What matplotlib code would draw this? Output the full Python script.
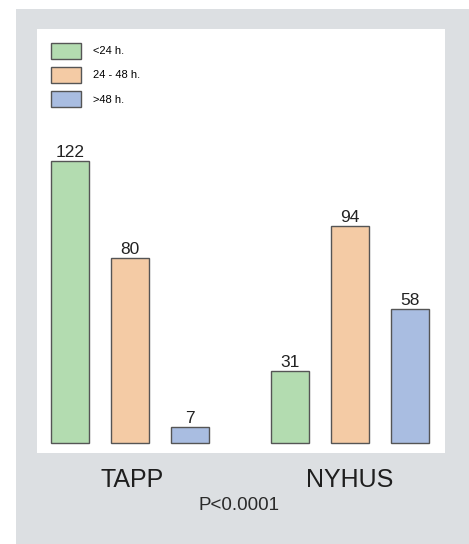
import matplotlib
matplotlib.use("Agg")
import matplotlib.pyplot as plt
from matplotlib.patches import Rectangle, Patch
import numpy as np

plt.rcParams['font.family'] = ['Liberation Sans', 'DejaVu Sans']

groups = ["TAPP", "NYHUS"]
series = ["<24 h.", "24 - 48 h.", ">48 h."]
values = {
    "<24 h.": [122, 31],
    "24 - 48 h.": [80, 94],
    ">48 h.": [7, 58],
}
colors = ["#b3dcb0", "#f4cba5", "#a9bde1"]
p_text = "P<0.0001"

W, H = 469, 544
fig = plt.figure(figsize=(W / 100, H / 100), dpi=100, facecolor="white")

# gray panel behind the plot
fig.patches.append(Rectangle((16 / W, 0), 1 - 16 / W, 1 - 9 / H,
                             transform=fig.transFigure, facecolor="#dcdfe2",
                             edgecolor="none", zorder=-10))

ax = fig.add_axes([37 / W, (H - 453) / H, (445 - 37) / W, (453 - 29) / H])
ax.set_zorder(1)
ax.set_facecolor("white")
for s in ax.spines.values():
    s.set_visible(False)
ax.set_xticks([])
ax.set_yticks([])

x = np.arange(len(groups))
offset = 0.2727
width = 0.173
for i, (name, col) in enumerate(zip(series, colors)):
    pos = x + (i - 1) * offset
    bars = ax.bar(pos, values[name], width=width, color=col,
                  edgecolor="#555555", linewidth=1.0, label=name)
    for b, v in zip(bars, values[name]):
        ax.text(b.get_x() + b.get_width() / 2, v + 0.4, str(v),
                ha="center", va="bottom", fontsize=12.5, color="#222222")

ax.set_xlim(-0.4227, 1.4318)
ax.set_ylim(-4.33, 179.2)

handles = [Patch(facecolor=c, edgecolor="#555555", linewidth=1.0) for c in colors]
ax.legend(handles, series, loc="upper left",
          bbox_to_anchor=(51 / W, 1 - 43 / H), bbox_transform=fig.transFigure,
          frameon=False, fontsize=8, handlelength=2.7, handleheight=1.8,
          handletextpad=1.1, labelspacing=0.75, borderpad=0, borderaxespad=0)

for xi, g in zip(x, groups):
    fig.text((132 + xi * 218) / W, 1 - 480 / H, g, ha="center", va="center",
             fontsize=18, color="#1e1e1e")
fig.text(239 / W, 1 - 505 / H, p_text, ha="center", va="center",
         fontsize=13.5, color="#2a2a2a")

fig.savefig("out.png", dpi=100, facecolor="white")
